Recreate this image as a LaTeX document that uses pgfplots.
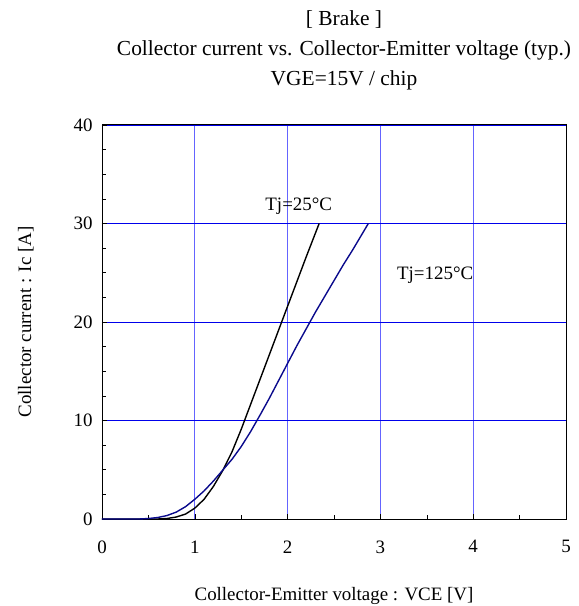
\documentclass[border=0pt]{standalone}
\usepackage{fontspec}
\setmainfont{Liberation Serif}
\usepackage{pgfplots}
\pgfplotsset{compat=1.18}

\definecolor{vgrid}{RGB}{100,100,255}
\definecolor{hgrid}{RGB}{0,0,235}
\definecolor{hot}{RGB}{10,10,140}

\begin{document}
\begin{tikzpicture}[x=1bp,y=1bp]
\begin{axis}[
    scale only axis,
    width=464bp, height=394bp,
    xmin=0, xmax=5, ymin=0, ymax=40,
    xtick={0,1,2,3,4,5}, ytick={0,10,20,30,40},
    minor x tick num=1, minor y tick num=3,
    tick align=inside, xtick pos=left, ytick pos=left,
    major tick length=5bp, minor tick length=4bp,
    tick style={black, line width=0.6pt},
    axis line style={black, line width=1pt},
    xmajorgrids, ymajorgrids,
    x grid style={vgrid, line width=0.8pt},
    y grid style={hgrid, line width=0.8pt},
    /pgf/number format/assume math mode=true,
    ticklabel style={font=\fontsize{19}{21}\selectfont},
    xticklabel style={yshift=-18bp},
    yticklabel style={xshift=-6bp},
    title={{[} Brake {]}\\Collector current vs. Collector-Emitter voltage (typ.)\\VGE=15V / chip},
    title style={font=\fontsize{21.5}{30.5}\selectfont, align=center, yshift=25bp, xshift=10bp},
    xlabel={Collector-Emitter voltage : VCE [V]},
    ylabel={Collector current : Ic [A]},
    label style={font=\fontsize{19}{21}\selectfont},
    xlabel style={yshift=-27bp},
    ylabel style={yshift=33bp},
    clip=false,
]
\addplot[black, line width=1.4pt] coordinates {
 (0,0) (0.6,0) (0.7,0.05) (0.8,0.2) (0.9,0.5) (1.0,1.1) (1.1,2.0) (1.2,3.3)
 (1.3,4.9) (1.4,6.8) (1.5,9.1) (1.6,11.6) (1.7,14.1) (1.8,16.6) (1.9,19.1)
 (2.0,21.6) (2.1,24.1) (2.2,26.6) (2.34,30)
};
\addplot[hot, line width=1.4pt] coordinates {
 (0,0) (0.4,0) (0.5,0.05) (0.6,0.15) (0.7,0.35) (0.8,0.7) (0.9,1.25) (1.0,2.0)
 (1.1,2.85) (1.2,3.85) (1.3,4.95) (1.4,6.05) (1.5,7.35) (1.6,8.85) (1.7,10.5)
 (1.8,12.2) (1.9,14.0) (2.0,15.8) (2.1,17.6) (2.2,19.3) (2.3,21.0) (2.4,22.6)
 (2.5,24.2) (2.6,25.8) (2.7,27.3) (2.87,30)
};
\node[font=\fontsize{19}{21}\selectfont] at (axis cs:2.12,31.8) {Tj=25°C};
\node[font=\fontsize{19}{21}\selectfont] at (axis cs:3.59,24.7) {Tj=125°C};
\coordinate (bbsw) at ([xshift=-102bp,yshift=-87bp]rel axis cs:0,0);
\coordinate (bbne) at ([xshift=13bp,yshift=125bp]rel axis cs:1,1);
\end{axis}
\pgfresetboundingbox
\path (bbsw) rectangle (bbne);
\end{tikzpicture}
\end{document}
